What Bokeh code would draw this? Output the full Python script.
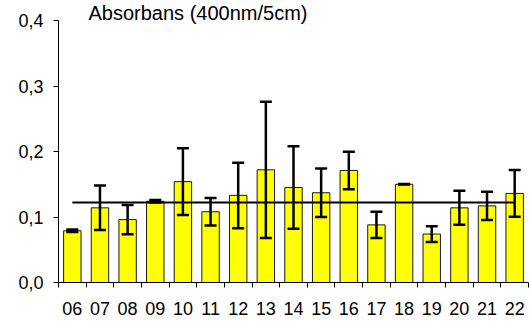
from bokeh.plotting import figure
from bokeh.models import (ColumnDataSource, FixedTicker, CustomJSTickFormatter,
                          Whisker, TeeHead, Label)
from bokeh.embed import file_html
from bokeh.resources import INLINE

# ---- data ----
categories = ["06", "07", "08", "09", "10", "11", "12", "13", "14",
              "15", "16", "17", "18", "19", "20", "21", "22"]
values = [0.079, 0.114, 0.096, 0.124, 0.154, 0.108, 0.133, 0.172, 0.145,
          0.137, 0.171, 0.088, 0.150, 0.074, 0.114, 0.117, 0.136]
errors = [0.002, 0.034, 0.0225, 0.002, 0.051, 0.021, 0.050, 0.104, 0.063,
          0.037, 0.0286, 0.020, 0.0005, 0.012, 0.026, 0.0217, 0.0357]
mean_value = 0.122
y_ticks = [0.0, 0.1, 0.2, 0.3, 0.4]
title_text = "Absorbans (400nm/5cm)"

FONT = "Liberation Sans"

n = len(categories)
xs = list(range(1, n + 1))
src = ColumnDataSource(dict(
    x=xs, top=values,
    upper=[v + e for v, e in zip(values, errors)],
    lower=[v - e for v, e in zip(values, errors)],
))

H = 322
BOTTOM = 40
frame_h = H - BOTTOM
axis_px = 262  # pixels from 0 to 0.4
y_end = y_ticks[-1] * frame_h / axis_px

p = figure(width=529, height=H, output_backend="svg", toolbar_location=None,
           x_range=(0.5, n + 0.5), y_range=(0, y_end),
           min_border_left=58, min_border_right=1,
           min_border_top=0, min_border_bottom=BOTTOM)
p.outline_line_color = None
p.xgrid.visible = False
p.ygrid.visible = False
p.background_fill_color = "white"
p.border_fill_color = "white"

p.vbar(x="x", top="top", width=0.63, bottom=0, source=src,
       fill_color="#FFFF00", line_color="#1a1a1a", line_width=1)

p.line(x=[xs[0], xs[-1]], y=[mean_value, mean_value],
       line_color="black", line_width=2)

w = Whisker(base="x", upper="upper", lower="lower", source=src,
            line_color="black", line_width=2.5, level="overlay",
            upper_head=TeeHead(size=12, line_width=2.5, line_color="black"),
            lower_head=TeeHead(size=12, line_width=2.5, line_color="black"))
p.add_layout(w)

# y axis
ya = p.yaxis[0]
ya.bounds = (y_ticks[0], y_ticks[-1])
ya.ticker = FixedTicker(ticks=y_ticks, minor_ticks=[])
ya.formatter = CustomJSTickFormatter(code="return tick.toFixed(1).replace('.', ',');")
ya.major_tick_in = 0
ya.major_tick_out = 5
ya.minor_tick_line_color = None
ya.major_label_standoff = 10
ya.major_label_text_font = FONT
ya.major_label_text_font_size = "18px"
ya.major_label_text_color = "black"
ya.axis_line_color = "black"

# x axis
xa = p.xaxis[0]
xa.ticker = FixedTicker(ticks=xs, minor_ticks=[i + 0.5 for i in range(0, n + 1)])
xa.major_label_overrides = {x: c for x, c in zip(xs, categories)}
xa.major_tick_in = 0
xa.major_tick_out = 0
xa.minor_tick_in = 0
xa.minor_tick_out = 5
xa.minor_tick_line_color = "black"
xa.major_label_standoff = 14
xa.major_label_text_font = FONT
xa.major_label_text_font_size = "18px"
xa.major_label_text_color = "black"
xa.axis_line_color = "black"

title = Label(x=1.585, y=0.4109, text=title_text, text_font=FONT,
              text_font_size="20px", text_color="black",
              text_baseline="alphabetic", text_align="left")
p.add_layout(title)

open("out.html", "w").write(file_html(p, INLINE))
